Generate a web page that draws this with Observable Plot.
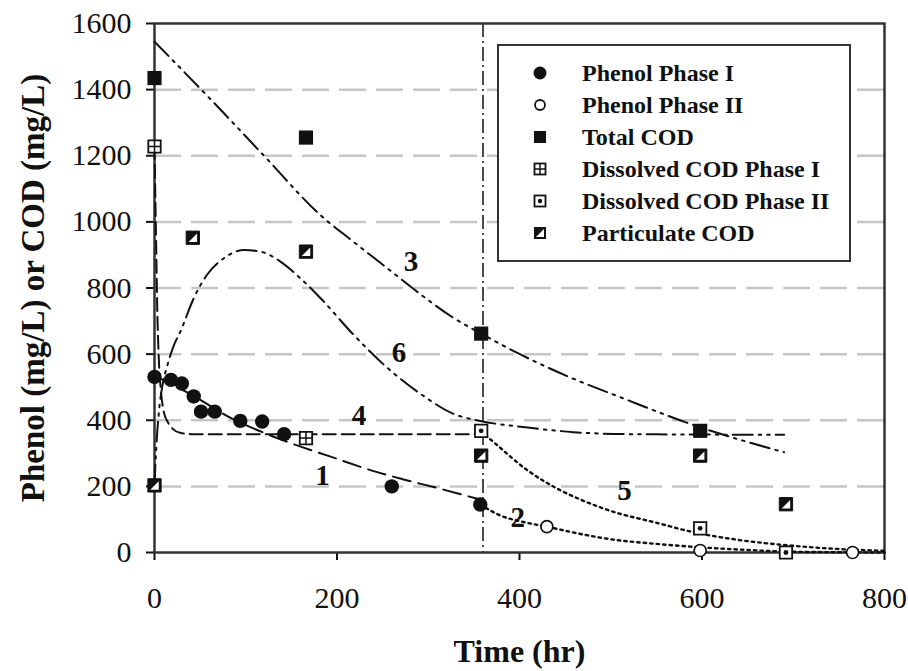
<!DOCTYPE html>
<html><head><meta charset="utf-8">
<script src="https://cdn.jsdelivr.net/npm/d3@7"></script>
<script src="https://cdn.jsdelivr.net/npm/@observablehq/plot@0.6"></script>
<style>
body{margin:0;background:#fff;}
#wrap{position:relative;width:908px;height:671px;overflow:hidden;}
#legend{position:absolute;left:497px;top:44px;width:354px;height:218px;box-sizing:border-box;border:2px solid #333;background:#fff;padding-top:11px;font-family:"Liberation Serif",serif;font-weight:bold;font-size:24px;color:#111;}
.row{display:flex;align-items:center;height:32px;}
.row svg{margin-left:27px;margin-right:28px;flex:none;}
</style>
</head><body><div id="wrap"><div id="legend"></div></div>
<script>
// ---- measured data ----
const xTicks = [0, 200, 400, 600, 800];
const yTicks = [0, 200, 400, 600, 800, 1000, 1200, 1400, 1600];
const gridValues = [200, 400, 600, 800, 1000, 1200, 1400];
const phaseSwitch = [360];

const phenolI_t = [0, 18, 30, 43, 51, 66, 94, 118, 142, 260, 357];
const phenolI_v = [531, 522, 511, 472, 426, 426, 398, 396, 358, 200, 145];
const phenolII_t = [430, 598, 765];
const phenolII_v = [78, 6, 0];
const totalCOD_t = [0, 166, 358, 598];
const totalCOD_v = [1435, 1255, 662, 368];
const dissI_t = [0, 166];
const dissI_v = [1228, 346];
const dissII_t = [358, 598, 692];
const dissII_v = [368, 73, 0];
const partic_t = [0, 42, 166, 358, 598, 692];
const partic_v = [203, 952, 910, 293, 293, 146];

// model curves
const c1_t = [0, 40, 83, 120, 150, 193, 244, 273, 310, 357];
const c1_v = [535, 478, 408, 362, 330, 290, 243, 221, 195, 160];
const c2_t = [357, 379, 408, 430, 467, 500, 550, 591, 640, 690, 740, 800];
const c2_v = [145, 112, 90, 78, 56, 40, 26, 17, 9, 3, 1, 0];
const c3_t = [0, 60, 120, 182, 218, 255, 292, 328, 358, 401, 456, 511, 588, 690];
const c3_v = [1545, 1375, 1200, 1020, 940, 860, 780, 709, 662, 599, 529, 469, 388, 303];
const c4_t = [0, 1, 2, 3, 4.5, 7, 10, 15, 20, 28, 40, 357];
const c4_v = [1230, 1060, 900, 740, 600, 490, 428, 392, 374, 362, 358, 358];
const c5_t = [357, 372, 409, 445, 467, 503, 550, 588, 640, 689, 740, 800];
const c5_v = [368, 333, 248, 188, 160, 123, 90, 63, 38, 23, 12, 5];
const c6_t = [0, 2, 5, 9, 14, 21, 28.5, 43, 57.6, 76, 98, 116, 138, 160, 182, 218, 255, 292, 328, 357, 409, 459, 520, 690];
const c6_v = [205, 320, 430, 510, 565, 625, 669, 769, 840, 890, 915, 910, 880, 829, 769, 659, 559, 479, 419, 398, 378, 364, 358, 356];

const curveLabels = ["1", "2", "3", "4", "5", "6"];
const curveLabel_t = [184, 398, 281, 224, 515, 268];
const curveLabel_v = [233, 104, 880, 414, 188, 604];

const legendNames = ["Phenol Phase I", "Phenol Phase II", "Total COD", "Dissolved COD Phase I", "Dissolved COD Phase II", "Particulate COD"];
const xTitle = "Time (hr)";
const yTitle = "Phenol (mg/L) or COD (mg/L)";

// ---- build ----
const pts = (t, v) => t.map((d, i) => ({t: d, v: v[i]}));
const ink = "#111";
const crossSym = {draw(ctx, size) { const s = Math.sqrt(size) / 2; ctx.moveTo(-s, 0); ctx.lineTo(s, 0); ctx.moveTo(0, -s); ctx.lineTo(0, s); }};
const triSym = {draw(ctx, size) { const s = Math.sqrt(size) / 2 - 2.4; ctx.moveTo(s, -s); ctx.lineTo(s, s); ctx.lineTo(-s, s); ctx.closePath(); }};
const lineOpts = (dash, w = 2) => ({x: "t", y: "v", curve: "monotone-x", stroke: ink, strokeWidth: w, strokeDasharray: dash});
const dashDotDot = "20,6,2.5,6,2.5,6";

const chart = Plot.plot({
  width: 908, height: 671,
  marginLeft: 154, marginRight: 24, marginTop: 23, marginBottom: 119,
  style: {fontFamily: "'Liberation Serif', serif", fontSize: "30px", color: ink, background: "#fff", overflow: "visible"},
  x: {domain: [0, 800]},
  y: {domain: [0, 1600]},
  marks: [
    Plot.ruleY(gridValues, {stroke: "#c6c6c6", strokeWidth: 2.5, strokeDasharray: "27,10"}),
    Plot.ruleX(phaseSwitch, {stroke: ink, strokeWidth: 1.5, strokeDasharray: "14,4,2,4"}),
    Plot.axisX({ticks: xTicks, tickSize: 8, tickPadding: 26, strokeWidth: 2, tickFormat: d => String(d), label: null, fontSize: 30}),
    Plot.axisY({ticks: yTicks, tickSize: 8, tickPadding: 15, strokeWidth: 2, tickFormat: d => String(d), label: null, fontSize: 30}),
    Plot.frame({stroke: "#333", strokeWidth: 2.5}),
    Plot.line(pts(c1_t, c1_v), lineOpts("18,8")),
    Plot.line(pts(c2_t, c2_v), lineOpts("2.5,4", 2.4)),
    Plot.line(pts(c3_t, c3_v), lineOpts(dashDotDot)),
    Plot.line(pts(c4_t, c4_v), lineOpts("13,6")),
    Plot.line(pts(c5_t, c5_v), lineOpts("2.5,4", 2.4)),
    Plot.line(pts(c6_t, c6_v), lineOpts(dashDotDot)),
    // Particulate COD
    Plot.dot(pts(partic_t, partic_v), {x: "t", y: "v", symbol: "square", r: 7.5, fill: ink, stroke: ink, strokeWidth: 1}),
    Plot.dot(pts(partic_t, partic_v), {x: "t", y: "v", symbol: triSym, r: 7.5, fill: "#fff"}),
    // Dissolved COD phase I
    Plot.dot(pts(dissI_t, dissI_v), {x: "t", y: "v", symbol: "square", r: 7, fill: "#fff", stroke: ink, strokeWidth: 1.8}),
    Plot.dot(pts(dissI_t, dissI_v), {x: "t", y: "v", symbol: crossSym, r: 7, stroke: ink, strokeWidth: 1.5}),
    // Dissolved COD phase II
    Plot.dot(pts(dissII_t, dissII_v), {x: "t", y: "v", symbol: "square", r: 7, fill: "#fff", stroke: ink, strokeWidth: 1.8}),
    Plot.dot(pts(dissII_t, dissII_v), {x: "t", y: "v", r: 2.4, fill: ink}),
    // Total COD
    Plot.dot(pts(totalCOD_t, totalCOD_v), {x: "t", y: "v", symbol: "square", r: 8, fill: ink}),
    // Phenol
    Plot.dot(pts(phenolI_t, phenolI_v), {x: "t", y: "v", r: 7.2, fill: ink}),
    Plot.dot(pts(phenolII_t, phenolII_v), {x: "t", y: "v", r: 6, fill: "#fff", stroke: ink, strokeWidth: 1.7}),
    // curve numbers
    Plot.text(curveLabels.map((s, i) => ({s, t: curveLabel_t[i], v: curveLabel_v[i]})), {x: "t", y: "v", text: "s", fontSize: 29, fontWeight: "bold", fill: ink}),
    // titles
    Plot.text([xTitle], {text: d => d, frameAnchor: "bottom", textAnchor: "middle", dy: 109, fontSize: 32, fontWeight: "bold", fill: ink}),
    Plot.text([yTitle], {text: d => d, frameAnchor: "left", textAnchor: "middle", dx: -121, rotate: -90, fontSize: 33, fontWeight: "bold", fill: ink})
  ]
});
document.getElementById("wrap").prepend(chart);

// ---- legend ----
const legend = d3.select("#legend");
const iconDraw = [
  g => g.append("circle").attr("cx", 14).attr("cy", 12).attr("r", 6.5).attr("fill", ink),
  g => g.append("circle").attr("cx", 14).attr("cy", 12).attr("r", 5).attr("fill", "#fff").attr("stroke", ink).attr("stroke-width", 1.8),
  g => g.append("rect").attr("x", 8).attr("y", 6).attr("width", 12).attr("height", 12).attr("fill", ink),
  g => { g.append("rect").attr("x", 8.5).attr("y", 6.5).attr("width", 11).attr("height", 11).attr("fill", "#fff").attr("stroke", ink).attr("stroke-width", 1.8);
         g.append("path").attr("d", "M8.5,12H19.5M14,6.5V17.5").attr("stroke", ink).attr("stroke-width", 1.5); },
  g => { g.append("rect").attr("x", 8.5).attr("y", 6.5).attr("width", 11).attr("height", 11).attr("fill", "#fff").attr("stroke", ink).attr("stroke-width", 1.8);
         g.append("circle").attr("cx", 14).attr("cy", 12).attr("r", 2.2).attr("fill", ink); },
  g => { g.append("rect").attr("x", 8).attr("y", 6).attr("width", 12).attr("height", 12).attr("fill", ink);
         g.append("path").attr("d", "M18,8V16H10Z").attr("fill", "#fff"); }
];
legendNames.forEach((name, i) => {
  const row = legend.append("div").attr("class", "row");
  const svg = row.append("svg").attr("width", 28).attr("height", 24);
  iconDraw[i](svg);
  row.append("span").text(name);
});
</script>
</body></html>
